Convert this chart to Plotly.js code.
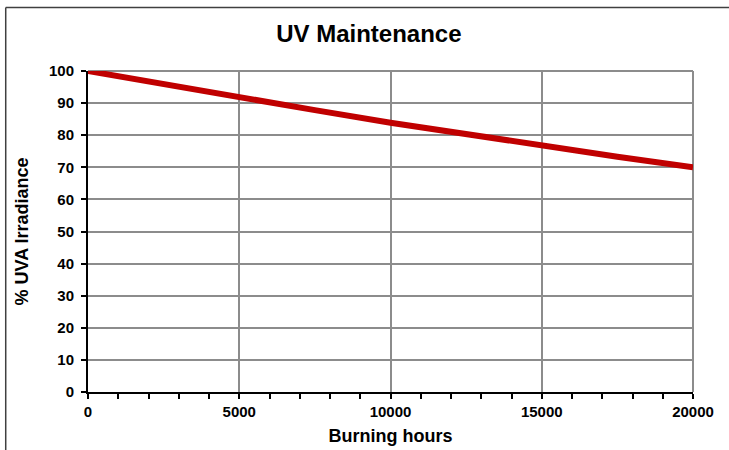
<!DOCTYPE html>
<html>
<head>
<meta charset="utf-8">
<script src="https://cdn.plot.ly/plotly-3.0.1.min.js"></script>
<style>
html, body { margin: 0; padding: 0; background: #fff; }
#chart { width: 729px; height: 450px; }
</style>
</head>
<body>
<div id="chart"></div>
<script>
// Data
const burningHours = [0, 2500, 5000, 7500, 10000, 12500, 15000, 17500, 20000];
const uvaIrradiance = [100, 95.8, 91.8, 87.8, 83.9, 80.3, 76.8, 73.3, 70];

const chartTitle = "UV Maintenance";
const xTitle = "Burning hours";
const yTitle = "% UVA Irradiance";

const FONT = "Liberation Sans, Arial, sans-serif";

const trace = {
  x: burningHours,
  y: uvaIrradiance,
  type: "scatter",
  mode: "lines",
  line: { color: "#C00000", width: 6 },
  hoverinfo: "skip",
  showlegend: false
};

const layout = {
  width: 729,
  height: 450,
  margin: { l: 88, r: 36, t: 71, b: 58 },
  paper_bgcolor: "#ffffff",
  plot_bgcolor: "#ffffff",
  font: { family: FONT, color: "#000000" },
  title: {
    text: "<b>" + chartTitle + "</b>",
    font: { family: FONT, size: 24, color: "#000000" },
    x: 0.506, xref: "container", xanchor: "center",
    y: 0.925, yref: "container", yanchor: "middle"
  },
  xaxis: {
    range: [0, 20000],
    dtick: 5000,
    tick0: 0,
    showgrid: true,
    gridcolor: "#8c8c8c",
    gridwidth: 2,
    zeroline: false,
    showline: true,
    linecolor: "#000000",
    linewidth: 2,
    ticks: "outside",
    ticklen: 5,
    tickwidth: 2,
    tickcolor: "#000000",
    tickfont: { family: FONT, size: 15, color: "#000000", weight: "bold" },
    tickformat: "d",
    minor: { dtick: 1000, ticks: "outside", ticklen: 5, tickwidth: 2, tickcolor: "#000000", showgrid: false },
    title: { text: "<b>" + xTitle + "</b>", font: { family: FONT, size: 18, color: "#000000" }, standoff: 10 },
    fixedrange: true
  },
  yaxis: {
    range: [0, 100],
    dtick: 10,
    tick0: 0,
    showgrid: true,
    gridcolor: "#8c8c8c",
    gridwidth: 2,
    zeroline: false,
    showline: true,
    linecolor: "#000000",
    linewidth: 2,
    ticks: "outside",
    ticklen: 5,
    tickwidth: 2,
    tickcolor: "#000000",
    ticklabelstandoff: 4,
    tickfont: { family: FONT, size: 15, color: "#000000", weight: "bold" },
    title: { text: "<b>" + yTitle + "</b>", font: { family: FONT, size: 18, color: "#000000" }, standoff: 16 },
    fixedrange: true
  },
  shapes: [
    // gridlines at the far edges of the plot area
    { type: "line", xref: "paper", yref: "paper", x0: 0, x1: 1, y0: 1, y1: 1,
      line: { color: "#8c8c8c", width: 2 }, layer: "below" },
    { type: "line", xref: "paper", yref: "paper", x0: 1, x1: 1, y0: 0, y1: 1,
      line: { color: "#8c8c8c", width: 2 }, layer: "below" },
    // chart frame
    { type: "line", xref: "paper", yref: "paper", x0: -0.136, x1: 1.2, y0: 1.198, y1: 1.198,
      line: { color: "#404040", width: 1.5 } },
    { type: "line", xref: "paper", yref: "paper", x0: -0.136, x1: -0.136, y0: 1.198, y1: -0.3,
      line: { color: "#404040", width: 1.5 } }
  ]
};

Plotly.newPlot("chart", [trace], layout, { displayModeBar: false, staticPlot: true });
</script>
</body>
</html>
